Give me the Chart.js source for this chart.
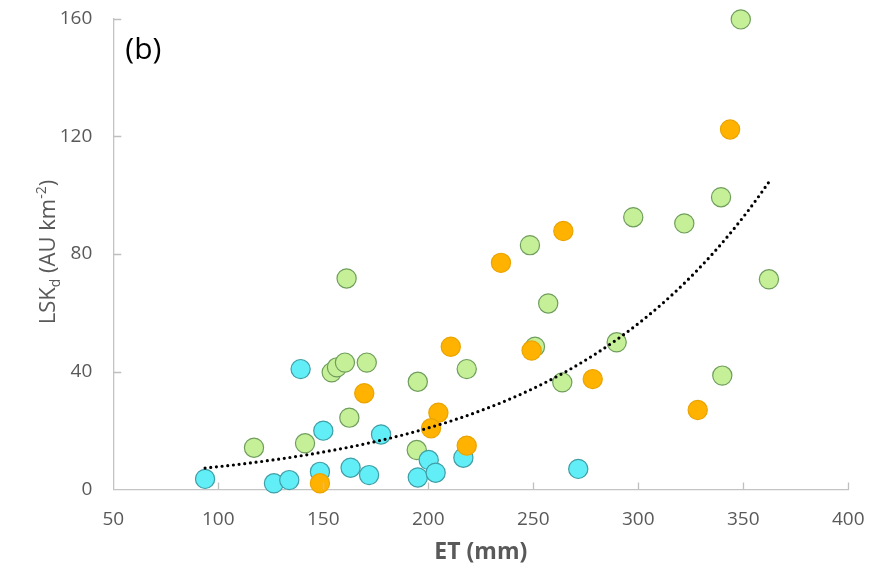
<!DOCTYPE html>
<html>
<head>
<meta charset="utf-8">
<script src="https://cdn.jsdelivr.net/npm/chart.js@4.4.1/dist/chart.umd.min.js"></script>
<style>
  html, body { margin: 0; padding: 0; background: #fff; }
  #wrap { width: 871px; height: 570px; }
</style>
</head>
<body>
<div id="wrap"><canvas id="chart"></canvas></div>
<script>
// ET (mm) vs LSKd (AU km-2), three groups
const cyanX = [93.7, 126.5, 133.8, 139.2, 150.0, 148.4, 163.0, 171.8, 177.5, 195.0, 200.2, 203.5, 216.7, 271.4];
const cyanY = [3.6, 2.1, 3.2, 40.9, 20.0, 6.0, 7.4, 4.9, 18.7, 4.1, 10.0, 5.7, 10.8, 7.0];

const greenX = [117.0, 141.3, 154.0, 156.5, 160.3, 170.7, 162.4, 161.1, 195.0, 194.5, 218.3, 248.4, 257.1, 250.8, 263.8, 289.7, 297.6, 321.9, 339.4, 348.8, 362.2, 340.0];
const greenY = [14.2, 15.7, 39.8, 41.5, 43.1, 43.1, 24.4, 71.7, 36.6, 13.4, 40.9, 83.0, 63.2, 48.5, 36.4, 50.0, 92.5, 90.4, 99.3, 159.7, 71.4, 38.7];

const orangeX = [148.4, 169.5, 210.7, 204.8, 201.3, 218.3, 234.6, 264.3, 249.2, 278.3, 328.3, 343.7];
const orangeY = [2.1, 32.7, 48.5, 26.1, 20.8, 14.9, 77.0, 87.8, 47.2, 37.5, 27.0, 122.3];

const xTicks = [50, 100, 150, 200, 250, 300, 350, 400];
const yTicks = [0, 40, 80, 120, 160];

const GREY = '#595959';
const FONT = "'Open Sans', 'Noto Sans', sans-serif";

function toPoints(xs, ys) {
  return xs.map((x, i) => ({ x, y: ys[i] }));
}

// exponential trendline y = a*e^(bx), least squares on ln(y)
function expTrend() {
  const xs = [...cyanX, ...greenX, ...orangeX];
  const ys = [...cyanY, ...greenY, ...orangeY];
  const n = xs.length;
  let sx = 0, sy = 0, sxx = 0, sxy = 0;
  xs.forEach((x, i) => {
    const ly = Math.log(ys[i]);
    sx += x; sy += ly; sxx += x * x; sxy += x * ly;
  });
  const b = (n * sxy - sx * sy) / (n * sxx - sx * sx);
  const a = Math.exp((sy - b * sx) / n);
  const lo = Math.min(...xs), hi = Math.max(...xs);
  const pts = [];
  for (let i = 0; i <= 80; i++) {
    const x = lo + (hi - lo) * i / 80;
    pts.push({ x, y: a * Math.exp(b * x) });
  }
  return pts;
}

function marker(fill, stroke, order) {
  return {
    type: 'scatter',
    backgroundColor: fill,
    borderColor: stroke,
    borderWidth: 1.2,
    pointRadius: 9.6,
    pointHoverRadius: 9.6,
    clip: false,
    order,
  };
}

// tick marks drawn inward, y title with sub/superscript, panel letter
const decor = {
  id: 'decor',
  afterDatasetsDraw(chart) {
    const { ctx, chartArea: a, scales: { x, y } } = chart;
    ctx.save();
    ctx.strokeStyle = '#bfbfbf';
    ctx.lineWidth = 1.3;
    ctx.beginPath();
    xTicks.slice(1).forEach((v) => {
      const px = Math.round(x.getPixelForValue(v)) + 0.5;
      ctx.moveTo(px, a.bottom);
      ctx.lineTo(px, a.bottom - 7);
    });
    yTicks.slice(1).forEach((v) => {
      const py = Math.round(y.getPixelForValue(v)) + 0.5;
      ctx.moveTo(a.left, py);
      ctx.lineTo(a.left + 8, py);
    });
    ctx.stroke();

    ctx.fillStyle = '#000';
    ctx.font = `30px ${FONT}`;
    ctx.textBaseline = 'middle';
    ctx.fillText('(b)', a.left + 12, 50);

    // rotated y title
    const parts = [
      { t: 'LSK', size: 22, dy: 0 },
      { t: 'd', size: 14, dy: 5 },
      { t: ' (AU km', size: 22, dy: 0 },
      { t: '-2', size: 14, dy: -9 },
      { t: ')', size: 22, dy: 0 },
    ];
    let total = 0;
    parts.forEach((p) => {
      ctx.font = `${p.size}px ${FONT}`;
      p.w = ctx.measureText(p.t).width;
      total += p.w;
    });
    ctx.translate(47, 252);
    ctx.rotate(-Math.PI / 2);
    ctx.fillStyle = GREY;
    ctx.textBaseline = 'alphabetic';
    let cx = -total / 2;
    parts.forEach((p) => {
      ctx.font = `${p.size}px ${FONT}`;
      ctx.fillText(p.t, cx, 8 + p.dy);
      cx += p.w;
    });
    ctx.restore();
  },
};

new Chart(document.getElementById('chart'), {
  data: {
    datasets: [
      {
        type: 'line',
        data: expTrend(),
        borderColor: '#000',
        borderWidth: 3.2,
        borderDash: [0, 5.7],
        borderCapStyle: 'round',
        pointRadius: 0,
        fill: false,
        clip: false,
        order: 0,
      },
      { ...marker('#ffb300', '#eaa400', 1), data: toPoints(orangeX, orangeY) },
      { ...marker('#62eef6', '#3f9ea6', 2), data: toPoints(cyanX, cyanY) },
      { ...marker('#c6f098', '#6f9e5c', 3), data: toPoints(greenX, greenY) },
    ],
  },
  options: {
    responsive: true,
    maintainAspectRatio: false,
    animation: false,
    events: [],
    layout: { autoPadding: false, padding: { top: 18.5, right: 22.7, left: 0, bottom: 0 } },
    plugins: { legend: { display: false }, tooltip: { enabled: false } },
    scales: {
      x: {
        type: 'linear',
        min: 50,
        max: 400,
        afterBuildTicks: (s) => { s.ticks = xTicks.map((v) => ({ value: v })); },
        afterFit: (s) => {
          s.height = 80.5;
          s.paddingLeft = 0;
          s.paddingRight = 0;
        },
        grid: { drawOnChartArea: false, drawTicks: false },
        border: { display: true, color: '#c4c4c4', width: 1.3 },
        ticks: { color: GREY, padding: 19, font: { family: FONT, size: 19 } },
        title: {
          display: true,
          text: 'ET (mm)',
          color: GREY,
          padding: { top: 4 },
          font: { family: FONT, size: 23, weight: 'bold' },
        },
      },
      y: {
        type: 'linear',
        min: 0,
        max: 160,
        afterBuildTicks: (s) => { s.ticks = yTicks.map((v) => ({ value: v })); },
        afterFit: (s) => {
          s.width = 113.3;
          s.paddingTop = 0;
          s.paddingBottom = 0;
        },
        grid: { drawOnChartArea: false, drawTicks: false },
        border: { display: true, color: '#c4c4c4', width: 1.3 },
        ticks: { color: GREY, padding: 21, font: { family: FONT, size: 19 } },
      },
    },
  },
  plugins: [decor],
});
</script>
</body>
</html>
